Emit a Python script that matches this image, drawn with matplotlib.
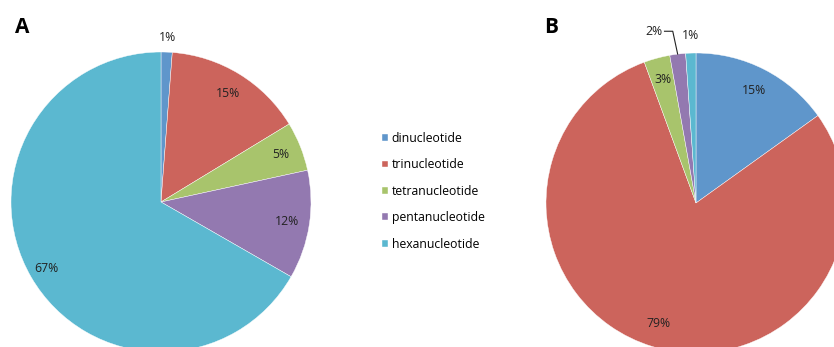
import matplotlib.pyplot as plt
import numpy as np

plt.rcParams["font.family"] = ["Open Sans", "DejaVu Sans"]

categories = ["dinucleotide", "trinucleotide", "tetranucleotide",
              "pentanucleotide", "hexanucleotide"]
colors = ["#5F96CB", "#CC645C", "#A8C46C", "#9379B0", "#5BB8D0"]

# shares (percent)
values_a = [1.2, 15.1, 5.3, 11.7, 66.7]
labels_a = ["1%", "15%", "5%", "12%", "67%"]
values_b = [15.1, 79.3, 2.8, 1.7, 1.1]
labels_b = ["15%", "79%", "3%", "2%", "1%"]


def draw_pie(ax, values, labels, dists):
    wedges, _ = ax.pie(values, colors=colors, startangle=90, counterclock=False,
                       radius=1.0, wedgeprops=dict(edgecolor="white", linewidth=0.3))
    ax.set_xlim(-1, 1)
    ax.set_ylim(-1, 1)
    ax.set_aspect("equal")
    ax.axis("off")
    total = sum(values)
    start = 0.0
    mids = []
    for v, lab, d in zip(values, labels, dists):
        mid = (start + v / 2) / total * 2 * np.pi
        start += v
        mids.append(mid)
        if d is None:
            continue
        x, y = d * np.sin(mid), d * np.cos(mid)
        ax.text(x, y, lab, ha="center", va="center", fontsize=8.8, color="#222222",
                clip_on=False)
    return wedges, mids


W, H = 834, 347
fig = plt.figure(figsize=(W / 100, H / 100), dpi=100)

ax_a = fig.add_axes([11 / W, (H - 352) / H, 300 / W, 300 / H])
wedges, _ = draw_pie(ax_a, values_a, labels_a, [1.1, 0.85, 0.86, 0.85, 0.88])

ax_b = fig.add_axes([546 / W, (H - 353) / H, 300 / W, 300 / H])
_, mids_b = draw_pie(ax_b, values_b, labels_b, [0.84, 0.84, 0.85, None, 1.12])

# the 2% label with its leader line
m = mids_b[3]
ax_b.text(-0.22, 1.145, labels_b[3], ha="right", va="center", fontsize=8.8,
          color="#222222", clip_on=False)
ax_b.plot([-0.21, -0.155, np.sin(m) * 1.0], [1.145, 1.145, np.cos(m) * 1.0],
          color="#222222", lw=0.8, clip_on=False)

fig.text(15 / W, 1 - 33 / H, "A", fontsize=15, fontweight="bold", ha="left",
         va="baseline")
fig.text(544 / W, 1 - 33 / H, "B", fontsize=15, fontweight="bold", ha="left",
         va="baseline")

fig.legend(wedges, categories, loc="upper left", bbox_to_anchor=(377 / W, 1 - 127 / H),
           frameon=False, fontsize=8.8, handlelength=0.5, handleheight=0.5,
           handletextpad=0.3, labelspacing=1.1, borderaxespad=0)

fig.savefig("out.png", dpi=100)
